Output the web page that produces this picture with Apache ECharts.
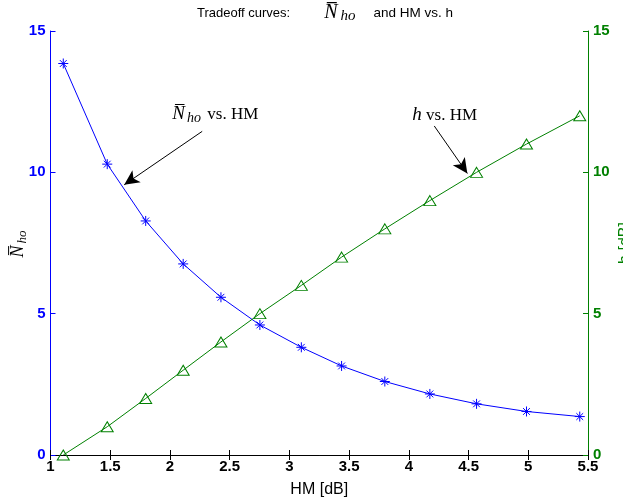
<!DOCTYPE html>
<html>
<head>
<meta charset="utf-8">
<script src="https://cdn.jsdelivr.net/npm/echarts@6/dist/echarts.min.js"></script>
<style>
  html, body { margin: 0; padding: 0; background: #fff; }
  #chart { width: 623px; height: 504px; }
</style>
</head>
<body>
<div id="chart"></div>
<script>
// HM [dB] for each operating point
const hm = [1.107, 1.475, 1.797, 2.111, 2.427, 2.753, 3.10, 3.437, 3.799, 4.176, 4.567, 4.985, 5.431]
// mean number of handovers
const nho = [13.85, 10.29, 8.28, 6.76, 5.58, 4.60, 3.81, 3.15, 2.60, 2.16, 1.81, 1.54, 1.36]
// hysteresis h [dB]
const hyst = [0, 1, 2, 3, 4, 5, 6, 7, 8, 9, 10, 11, 12]

// annotation arrows [x0, y0, x1, y1] in data units
const arrowN = [2.27, 11.45, 1.617, 9.56]
const arrowH = [4.213, 11.64, 4.49, 9.96]
const labelN = [2.38, 12.06]
const labelH = [4.30, 12.02]

const BLUE = '#0000ff'
const GREEN = '#008000'
const SANS = 'Liberation Sans, Arial, Helvetica, sans-serif'
const SERIF = 'Liberation Serif, DejaVu Serif, serif'

const chart = echarts.init(document.getElementById('chart'))

const star = 'path://M5 0L5 10M0 5L10 5M1.6 1.6L8.4 8.4M1.6 8.4L8.4 1.6'

// math-ish rich styles (italic serif with a lowered subscript)
const mathN = size => ({ fontFamily: SERIF, fontStyle: 'italic', fontWeight: 'normal', fontSize: size, color: '#000', lineHeight: 22 })
const mathSub = size => ({ fontFamily: SERIF, fontStyle: 'italic', fontWeight: 'normal', fontSize: size, color: '#000', lineHeight: 14, verticalAlign: 'bottom', padding: [0, 2, 0, 2] })

const option = {
  animation: false,
  title: {
    text: '{a|Tradeoff curves:}{n|N\u0305}{s|ho}{b|and HM vs. h}',
    left: 320,
    top: -3,
    textAlign: 'center',
    textStyle: {
      fontWeight: 'normal',
      rich: {
        a: { fontFamily: SANS, fontSize: 13, fontWeight: 'normal', color: '#000', lineHeight: 22, padding: [0, 34, 0, 0] },
        b: { fontFamily: SANS, fontSize: 13.5, fontWeight: 'normal', color: '#000', lineHeight: 22, padding: [0, 0, 0, 14] },
        n: mathN(20),
        s: Object.assign(mathSub(15), { padding: [0, 4, 0, 3] })
      }
    }
  },
  grid: { left: 50.5, right: 35, top: 31, bottom: 49, containLabel: false, outerBoundsMode: 'none' },
  xAxis: [
    {
      type: 'value',
      min: 1,
      max: 5.5,
      interval: 0.5,
      name: 'HM [dB]',
      nameLocation: 'middle',
      nameGap: 27,
      nameTextStyle: { fontFamily: SANS, fontSize: 16, color: '#000' },
      axisLine: { lineStyle: { color: '#000', width: 1 } },
      axisTick: { inside: true, length: 5, lineStyle: { color: '#000' } },
      axisLabel: { fontFamily: SANS, fontSize: 15, fontWeight: 'bold', color: '#000', margin: 4 },
      splitLine: { show: false }
    },
    {
      type: 'value',
      position: 'top',
      min: 1,
      max: 5.5,
      interval: 0.5,
      axisLine: { lineStyle: { color: '#000', width: 1 } },
      axisTick: { inside: true, length: 5, lineStyle: { color: '#000' } },
      axisLabel: { show: false },
      splitLine: { show: false }
    }
  ],
  yAxis: [
    {
      type: 'value',
      position: 'left',
      min: 0,
      max: 15,
      interval: 5,
      name: '{n|N\u0305}{s|ho}',
      nameLocation: 'middle',
      nameGap: 21,
      nameMoveOverlap: false,
      nameTextStyle: {
        rich: { n: mathN(18), s: mathSub(13) }
      },
      axisLine: { show: true, lineStyle: { color: BLUE, width: 1 } },
      axisTick: { show: true, inside: true, length: 5, lineStyle: { color: BLUE } },
      axisLabel: { fontFamily: SANS, fontSize: 15, fontWeight: 'bold', color: BLUE, margin: 5 },
      splitLine: { show: false }
    },
    {
      type: 'value',
      position: 'right',
      min: 0,
      max: 15,
      interval: 5,
      name: 'h [dB]',
      nameLocation: 'middle',
      nameGap: 30,
      nameMoveOverlap: false,
      nameTextStyle: { fontFamily: SANS, fontSize: 16, color: GREEN },
      axisLine: { show: true, lineStyle: { color: GREEN, width: 1 } },
      axisTick: { show: true, inside: true, length: 5, lineStyle: { color: GREEN } },
      axisLabel: { fontFamily: SANS, fontSize: 15, fontWeight: 'bold', color: GREEN, margin: 5 },
      splitLine: { show: false }
    }
  ],
  series: [
    {
      name: 'Nho',
      type: 'line',
      xAxisIndex: 0,
      yAxisIndex: 0,
      data: hm.map((x, i) => [x, nho[i]]),
      symbol: star,
      symbolSize: 10,
      lineStyle: { color: BLUE, width: 1 },
      itemStyle: { color: BLUE, borderColor: BLUE, borderWidth: 1 },
      markLine: {
        silent: true,
        symbol: ['none', 'arrow'],
        symbolSize: [11, 15],
        lineStyle: { color: '#000', width: 1, type: 'solid' },
        label: { show: false },
        data: [[{ coord: [arrowN[0], arrowN[1]] }, { coord: [arrowN[2], arrowN[3]] }]]
      },
      markPoint: {
        silent: true,
        symbol: 'circle',
        symbolSize: 0,
        label: {
          show: true,
          position: 'inside',
          formatter: '{n|N\u0305}{s|ho}{t| vs. HM}',
          rich: {
            n: mathN(19),
            s: mathSub(14),
            t: { fontFamily: SERIF, fontSize: 17, color: '#000', lineHeight: 22 }
          }
        },
        data: [{ coord: labelN }]
      }
    },
    {
      name: 'h',
      type: 'line',
      xAxisIndex: 0,
      yAxisIndex: 1,
      data: hm.map((x, i) => [x, hyst[i]]),
      symbol: 'triangle',
      symbolSize: [12, 10],
      lineStyle: { color: GREEN, width: 1 },
      itemStyle: { color: 'rgba(0,0,0,0)', borderColor: GREEN, borderWidth: 1 },
      markLine: {
        silent: true,
        symbol: ['none', 'arrow'],
        symbolSize: [11, 15],
        lineStyle: { color: '#000', width: 1, type: 'solid' },
        label: { show: false },
        data: [[{ coord: [arrowH[0], arrowH[1]] }, { coord: [arrowH[2], arrowH[3]] }]]
      },
      markPoint: {
        silent: true,
        symbol: 'circle',
        symbolSize: 0,
        label: {
          show: true,
          position: 'inside',
          formatter: '{h|h}{t| vs. HM}',
          rich: {
            h: mathN(19),
            t: { fontFamily: SERIF, fontSize: 17, color: '#000', lineHeight: 22 }
          }
        },
        data: [{ coord: labelH }]
      }
    }
  ]
}

chart.setOption(option)

window.addEventListener('resize', () => {
  chart.resize()
})
</script>
</body>
</html>
